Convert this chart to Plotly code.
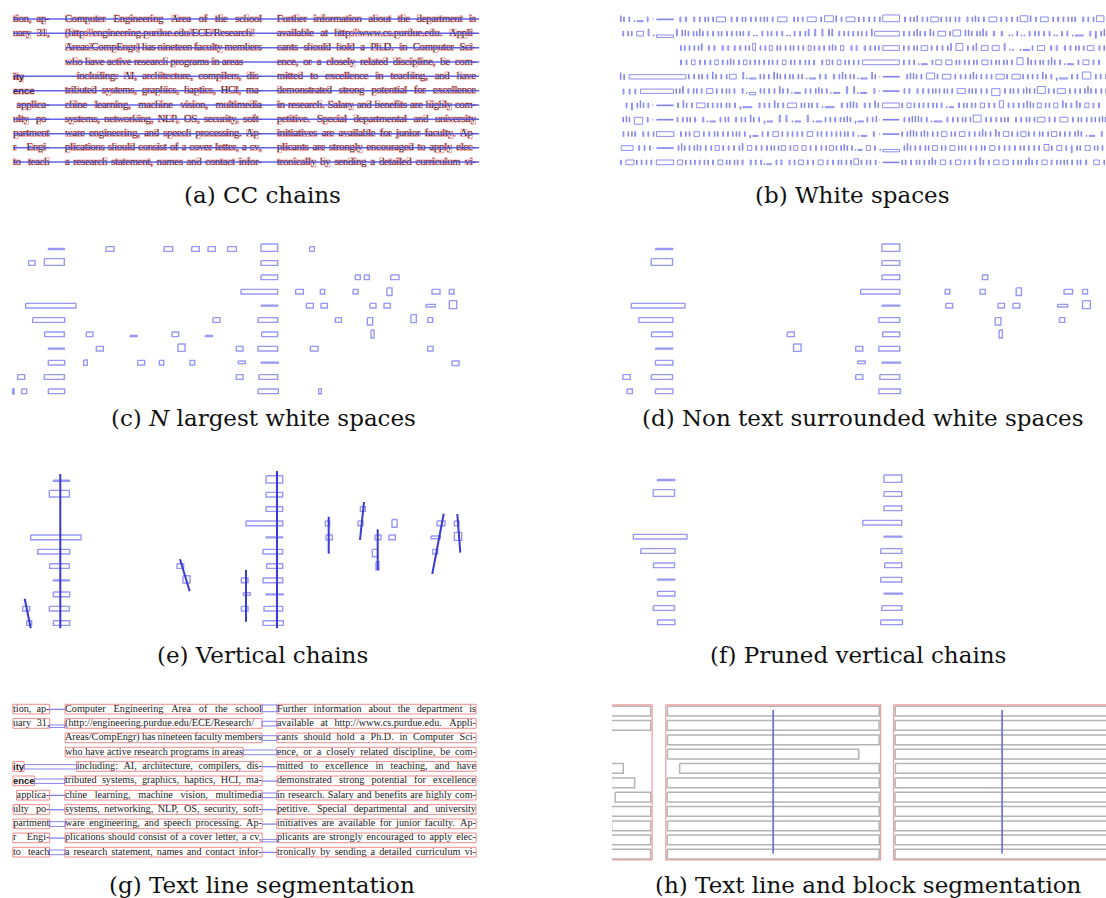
import plotly.graph_objects as go

# page size; the page body margin is removed after plotting so the figure fills the window
W, H = 1106, 898

# ------------------------------------------------------------------
# Data (document coordinates, px)
# ------------------------------------------------------------------
ROW_Y = [19.0, 33.3, 47.7, 62.0, 76.3, 90.7, 105.0, 119.3, 133.7, 147.7, 162.0]

LEFT_TEXT = ["tion, ap-", "uary 31,", "", "", "ity", "ence",
             "applica-", "ulty po-", "partment", "r Engi-", "to teach"]
MID_TEXT = [
    "Computer Engineering Area of the school",
    "(http://engineering.purdue.edu/ECE/Research/",
    "Areas/CompEngr) has nineteen faculty members",
    "who have active research programs in areas",
    "including: AI, architecture, compilers, dis-",
    "tributed systems, graphics, haptics, HCI, ma-",
    "chine learning, machine vision, multimedia",
    "systems, networking, NLP, OS, security, soft-",
    "ware engineering, and speech processing. Ap-",
    "plications should consist of a cover letter, a cv,",
    "a research statement, names and contact infor-",
]
RIGHT_TEXT = [
    "Further information about the department is",
    "available at http://www.cs.purdue.edu. Appli-",
    "cants should hold a Ph.D. in Computer Sci-",
    "ence, or a closely related discipline, be com-",
    "mitted to excellence in teaching, and have",
    "demonstrated strong potential for excellence",
    "in research. Salary and benefits are highly com-",
    "petitive. Special departmental and university",
    "initiatives are available for junior faculty. Ap-",
    "plicants are strongly encouraged to apply elec-",
    "tronically by sending a detailed curriculum vi-",
]
HEADING_ROWS = [4, 5]
MID_LAST_LINE_ROWS = [3]
MID_INDENT_ROWS = [4]
MID_INDENT_X = 76.7
COL_LEFT = (13.0, 49.5)
COL_MID = (65.0, 262.0)
COL_RIGHT = (277.0, 476.0)

# N largest white spaces (values in 1/3 px units as read), level: c / d / f
WS_X0 = [145, 318, 492, 575, 624, 683, 783, 929, 86, 133, 783, 783, 1066, 1093, 1172,
         723, 887, 961, 1059, 1161, 1296, 1348, 77, 783, 919, 963, 1110, 1152, 1278, 1348,
         98, 639, 774, 1006, 1102, 1233, 1283, 134, 259, 390, 516, 616, 785, 1113,
         145, 289, 534, 709, 774, 931, 1283, 145, 251, 413, 478, 570, 715, 783, 1356,
         53, 133, 709, 777, 38, 65, 145, 774, 956]
WS_X1 = [193, 342, 518, 598, 646, 709, 833, 943, 105, 193, 833, 833, 1081, 1108, 1197,
         833, 910, 974, 1074, 1176, 1320, 1362, 228, 833, 940, 982, 1128, 1171, 1306, 1370,
         194, 660, 833, 1024, 1118, 1249, 1298, 193, 279, 411, 536, 637, 833, 1122,
         193, 310, 555, 729, 833, 954, 1299, 194, 262, 434, 491, 584, 736, 835, 1377,
         74, 193, 729, 833, 42, 80, 194, 835, 964]
WS_YC = [57, 57, 57, 57, 57, 57, 53, 57, 99, 96, 99, 142, 142, 142, 142,
         185, 185, 185, 185, 185, 185, 185, 227, 227, 227, 227, 227, 227, 227, 224,
         270, 270, 270, 270, 274, 266, 270, 313, 313, 318, 313, 318, 313, 312,
         356, 356, 353, 356, 356, 356, 356, 398, 398, 398, 398, 398, 397, 398, 400,
         441, 441, 441, 441, 484, 484, 484, 484, 484]
WS_H = [3, 14, 14, 14, 14, 14, 22, 14, 14, 20, 14, 14, 14, 14, 14,
        14, 14, 14, 14, 23, 14, 14, 14, 3, 14, 14, 14, 14, 8, 24,
        14, 14, 14, 14, 22, 24, 14, 14, 14, 3, 14, 3, 14, 24,
        3, 14, 22, 14, 14, 14, 14, 14, 16, 14, 14, 14, 8, 3, 14,
        14, 14, 14, 14, 16, 14, 14, 14, 16]
WS_LEVEL = ["f", "c", "c", "c", "c", "c", "f", "c", "c", "f", "f", "f", "d", "c", "c",
            "f", "c", "d", "d", "d", "d", "d", "f", "f", "c", "d", "d", "d", "d", "d",
            "f", "c", "f", "c", "d", "c", "d", "f", "c", "c", "d", "c", "f", "d",
            "f", "c", "d", "d", "f", "c", "c", "f", "c", "c", "c", "c", "d", "f", "c",
            "d", "f", "d", "f", "c", "d", "f", "f", "c"]

# vertical chains (document px)
CHAIN_X0 = [55.3, 272.0, 19.7, 175.0, 241.0, 323.7, 359.0, 372.7, 438.7, 452.3]
CHAIN_Y0 = [12.3, 9.3, 137.0, 97.6, 108.3, 55.0, 40.3, 67.6, 52.0, 52.3]
CHAIN_X1 = [55.3, 272.0, 25.7, 184.7, 241.0, 323.7, 355.0, 372.7, 427.3, 455.3]
CHAIN_Y1 = [166.6, 166.6, 166.6, 129.6, 160.0, 92.0, 78.3, 108.6, 112.3, 91.0]

BLOCK_AXIS_COLS = [1, 2]   # mid and right blocks carry a blue axis line

CAPTIONS = ["(a) CC chains", "(b) White spaces", "(c) <i>N</i> largest white spaces",
            "(d) Non text surrounded white spaces", "(e) Vertical chains",
            "(f) Pruned vertical chains", "(g) Text line segmentation",
            "(h) Text line and block segmentation"]

# ------------------------------------------------------------------
# Layout helpers (font metrics for Times-compatible Liberation Serif)
# ------------------------------------------------------------------
TIMES_W = {}
for chars, w in [("acez", 444), ("bdghknopquvxy", 500), ("fr", 333), ("ijlt", 278),
                 ("m", 778), ("s", 389), ("w", 722), ("ADGHKNOQUVXY", 722), ("BCR", 667),
                 ("ELTZ", 611), ("FPS", 556), ("I", 333), ("J", 389), ("M", 889), ("W", 944),
                 ("0123456789", 500), (" .,", 250), (":;/", 278), ("-()", 333)]:
    for ch in chars:
        TIMES_W[ch] = w
HELVB_W = {"i": 278, "t": 333, "y": 556, "e": 556, "n": 611, "c": 556, " ": 278}


def vext(ch, bold=False):
    if bold:
        if ch in "it":
            return (0.72, 0.0)
        if ch == "y":
            return (0.53, -0.21)
        return (0.53, 0.0)
    if ch in "bdfhkl" or ch == "i":
        return (0.683, 0.0)
    if ch == "j":
        return (0.683, -0.218)
    if ch == "t":
        return (0.58, 0.0)
    if ch in "acemnorsuvwxz":
        return (0.46, 0.0)
    if ch in "gpqy":
        return (0.46, -0.218)
    if ch.isupper() or ch.isdigit():
        return (0.662, 0.0)
    if ch in "()":
        return (0.694, -0.18)
    if ch == "/":
        return (0.694, -0.014)
    if ch == ",":
        return (0.1, -0.14)
    if ch == ".":
        return (0.1, 0.0)
    if ch == ":":
        return (0.46, 0.0)
    if ch == ";":
        return (0.46, -0.14)
    if ch == "-":
        return (0.26, 0.19)
    return (0.46, 0.0)


def em_of(word, table):
    return sum(table.get(c, 500) for c in word) / 1000.0


# font size fitted so that the tightest justified line fits its column
FS = 10.6
for texts, (c0, c1) in ((MID_TEXT, COL_MID), (RIGHT_TEXT, COL_RIGHT)):
    for t in texts:
        ws = t.split()
        if len(ws) > 1:
            FS = min(FS, (c1 - c0) / (sum(em_of(w, TIMES_W) for w in ws) + 0.2 * (len(ws) - 1)))
FS_BOLD = 9.5


def layout_row(text, x0, x1, mode, fs, bold):
    words = text.split()
    if not words:
        return [], []
    table = HELVB_W if bold else TIMES_W
    sp = table[" "] * fs / 1000.0
    wl = [em_of(w, table) * fs for w in words]
    n = len(words)
    if mode in ("justify", "justify_r") and n > 1:
        gap = (x1 - x0 - sum(wl)) / (n - 1)
        start = x0
    elif mode == "justify_r":
        gap = sp
        start = x1 - sum(wl)
    else:
        gap = sp
        start = x0
    witems, chars = [], []
    x = start
    for w, L in zip(words, wl):
        witems.append((w, x))
        cx = x
        for c in w:
            a = table.get(c, 500) * fs / 1000.0
            chars.append((c, cx, a))
            cx += a
        x += L + gap
    return witems, chars


WORDS = []        # (text, x, y, bold)
ROWS = []         # per row: list of (column index, char boxes, line right edge)
for r in range(11):
    row_cols = []
    for ci, (text, (x0, x1)) in enumerate(((LEFT_TEXT[r], COL_LEFT), (MID_TEXT[r], COL_MID),
                                           (RIGHT_TEXT[r], COL_RIGHT))):
        bold = False
        mode = "justify"
        if ci == 0:
            if r in HEADING_ROWS:
                bold, mode = True, "natural"
            else:
                mode = "justify_r"
        elif ci == 1:
            if r in MID_LAST_LINE_ROWS:
                mode = "natural"
            if r in MID_INDENT_ROWS:
                x0 = MID_INDENT_X
        fs = FS_BOLD if bold else FS
        base = ROW_Y[r] + (3.4 if bold else 2.7)
        witems, chars = layout_row(text, x0, x1, mode, fs, bold)
        for w, wx in witems:
            WORDS.append((w, wx, base - 0.25 * fs, bold))
        boxes = []
        for c, cx, a in chars:
            top, bot = vext(c, bold)
            sb = 0.08 * a
            boxes.append((cx + sb, cx + a - sb, base - top * fs, base - bot * fs))
        if boxes:
            right = boxes[-1][1] + 0.4
            if mode == "justify" and ci > 0:
                right = max(right, x1)   # justified lines reach the column edge
            row_cols.append((ci, boxes, right))
    ROWS.append(row_cols)

# derived geometry
CHAR_BOXES = [b for row in ROWS for _, col, _ in row for b in col]
ROW_CHAINS = []
LINE_BOXES = []
GAPS = []
CONNECT = []
COL_EXT = {}
for r, row in enumerate(ROWS):
    allc = [b for _, col, _ in row for b in col]
    ROW_CHAINS.append((allc[0][0], allc[-1][1] + 3.5, ROW_Y[r], ROW_Y[r]))
    for a, b in zip(allc[:-1], allc[1:]):
        if b[0] - a[1] > 0.25:
            GAPS.append((a[1], b[0], max(a[2], b[2]), min(a[3], b[3])))
    prev = None
    for ci, col, right in row:
        lb = (col[0][0] - 0.4, right, ROW_Y[r] - 4.7, ROW_Y[r] + 5.0)
        LINE_BOXES.append(lb)
        COL_EXT.setdefault(ci, []).append(lb)
        if prev is not None:
            pa, pb = prev[1], col[0]
            CONNECT.append((prev[0][1], lb[0], max(pa[2], pb[2]), min(pa[3], pb[3])))
        prev = (lb, col[-1])

BLOCKS = {}
for ci, ext in COL_EXT.items():
    BLOCKS[ci] = (min(e[0] for e in ext) - 1.2, max(e[1] for e in ext) + 1.2,
                  ROW_Y[0] - 6.2, ROW_Y[-1] + 6.0)

# ------------------------------------------------------------------
# Figure: each panel is its own pair of axes placed at its page position
# ------------------------------------------------------------------
PANELS = [
    ((10, 560), (0, 178), 0.0, 1.0, 0.0),
    ((610, 1106), (0, 178), 604.0, 1.065, 0.0),
    ((10, 560), (230, 408), 0.0, 1.0, 230.0),
    ((610, 1106), (230, 408), 604.0, 1.065, 230.0),
    ((10, 560), (458, 640), 5.0, 1.0, 461.7),
    ((610, 1106), (458, 640), 606.0, 1.065, 461.0),
    ((10, 560), (688, 870), 0.0, 1.0, 690.0),
    ((612, 1106), (688, 872), 597.4, 1.075, 692.0),
]
CAP_POS = [(262.5, 195), (852, 195), (263, 418), (862, 418),
           (262, 655), (858, 655), (262, 885), (868, 885)]


def fx(px):
    return px / W


def fy(py):
    return 1 - py / H


fig = go.Figure()
lay = {}
for k, ((px0, px1), (py0, py1), ox, sx, oy) in enumerate(PANELS, 1):
    sfx = "" if k == 1 else str(k)
    lay["xaxis" + sfx] = dict(domain=[fx(px0), fx(px1)], range=[(px0 - ox) / sx, (px1 - ox) / sx],
                              visible=False, fixedrange=True, anchor="y" + sfx)
    lay["yaxis" + sfx] = dict(domain=[fy(py1), fy(py0)], range=[py1 - oy, py0 - oy],
                              visible=False, fixedrange=True, anchor="x" + sfx)


def axn(k):
    return ("x", "y") if k == 1 else ("x%d" % k, "y%d" % k)


def add_rects(k, rects, color, width, flat_width=None):
    xs, ys, fxs, fys = [], [], [], []
    for (x0, x1, y0, y1) in rects:
        if flat_width is not None and y1 - y0 < 1.0:
            ym = (y0 + y1) / 2
            fxs += [x0, x1, None]
            fys += [ym, ym, None]
        else:
            xs += [x0, x1, x1, x0, x0, None]
            ys += [y0, y0, y1, y1, y0, None]
    xa, ya = axn(k)
    fig.add_trace(go.Scatter(x=xs, y=ys, mode="lines", line=dict(color=color, width=width),
                             xaxis=xa, yaxis=ya, hoverinfo="skip", showlegend=False))
    if fxs:
        fig.add_trace(go.Scatter(x=fxs, y=fys, mode="lines", line=dict(color=color, width=flat_width),
                                 xaxis=xa, yaxis=ya, hoverinfo="skip", showlegend=False))


def add_segs(k, segs, color, width):
    xs, ys = [], []
    for (x0, x1, y0, y1) in segs:
        xs += [x0, x1, None]
        ys += [y0, y1, None]
    xa, ya = axn(k)
    fig.add_trace(go.Scatter(x=xs, y=ys, mode="lines", line=dict(color=color, width=width),
                             xaxis=xa, yaxis=ya, hoverinfo="skip", showlegend=False))


def add_words(k, color):
    xa, ya = axn(k)
    for bold in (False, True):
        sel = [w for w in WORDS if w[3] == bold]
        fig.add_trace(go.Scatter(
            x=[w[1] for w in sel], y=[w[2] for w in sel], text=[w[0] for w in sel],
            mode="text", textposition="middle right",
            textfont=dict(family="Liberation Sans" if bold else "Liberation Serif",
                          size=FS_BOLD if bold else FS, color=color,
                          weight="bold" if bold else "normal"),
            xaxis=xa, yaxis=ya, hoverinfo="skip", showlegend=False, cliponaxis=True))


def ws_rects(levels):
    out = []
    for x0, x1, yc, h, lv in zip(WS_X0, WS_X1, WS_YC, WS_H, WS_LEVEL):
        if lv in levels:
            out.append((x0 / 3.0, x1 / 3.0, (yc - h / 2.0) / 3.0, (yc + h / 2.0) / 3.0))
    return out


# (a) CC chains
add_words(1, "#1c1414")
add_rects(1, CHAR_BOXES, "rgba(228,70,70,0.7)", 0.7)
add_segs(1, ROW_CHAINS, "rgba(70,70,225,0.85)", 1.5)

# (b) white spaces
add_rects(2, GAPS, "rgba(105,105,238,0.85)", 0.9, flat_width=1.6)

# (c) N largest white spaces
WS_COLOR = "rgba(112,112,240,0.72)"
add_rects(3, ws_rects("cdf"), WS_COLOR, 1.4, flat_width=2.0)
# (d) non text surrounded
add_rects(4, ws_rects("df"), WS_COLOR, 1.4, flat_width=2.0)
# (e) vertical chains
add_rects(5, ws_rects("df"), WS_COLOR, 1.4, flat_width=2.0)
add_segs(5, list(zip(CHAIN_X0, CHAIN_X1, CHAIN_Y0, CHAIN_Y1)), "rgb(58,58,212)", 2.0)
# (f) pruned vertical chains
add_rects(6, ws_rects("f"), WS_COLOR, 1.4, flat_width=2.0)

# (g) text line segmentation
add_words(7, "#222222")
add_rects(7, LINE_BOXES, "rgba(238,120,120,0.85)", 1.0)
add_rects(7, CONNECT, "rgba(110,110,235,0.85)", 1.0, flat_width=1.3)

# (h) text line and block segmentation
add_rects(8, LINE_BOXES, "rgb(180,180,180)", 1.5)
add_rects(8, list(BLOCKS.values()), "rgba(238,150,150,0.95)", 1.2)
axis_lines = []
for ci in BLOCK_AXIS_COLS:
    b = BLOCKS[ci]
    xm = (b[0] + b[1]) / 2
    axis_lines.append((xm, xm, ROW_Y[0] - 1.0, ROW_Y[-1] - 0.5))
add_segs(8, axis_lines, "rgb(105,105,220)", 1.6)

annotations = []
for cap, (cx, cy) in zip(CAPTIONS, CAP_POS):
    annotations.append(dict(text=cap, x=fx(cx), y=fy(cy), xref="paper", yref="paper",
                            xanchor="center", yanchor="middle", showarrow=False,
                            font=dict(family="DejaVu Serif", size=23, color="#111111")))

fig.update_layout(width=W, height=H, margin=dict(l=0, r=0, t=0, b=0),
                  paper_bgcolor="white", plot_bgcolor="rgba(0,0,0,0)",
                  showlegend=False, annotations=annotations, **lay)

fig.write_html("out.html", config={"displayModeBar": False, "staticPlot": True},
               post_script="document.body.style.margin='0';document.body.style.overflow='hidden';")
